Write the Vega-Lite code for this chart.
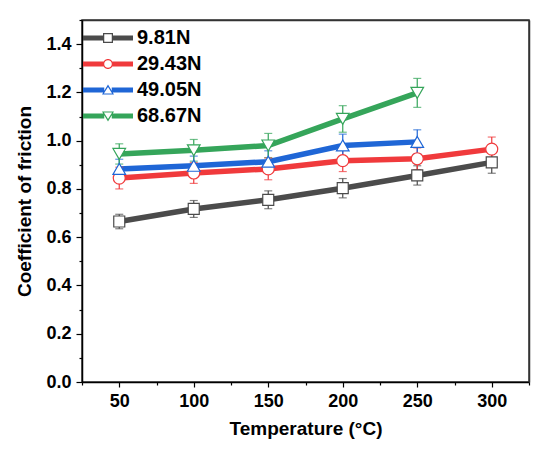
{
  "$schema": "https://vega.github.io/schema/vega-lite/v6.json",
  "width": 447,
  "height": 362,
  "autosize": {"type": "none"},
  "padding": {"left": 82, "top": 20, "right": 21, "bottom": 75},
  "background": "white",
  "config": {
    "view": {"stroke": "#333333", "strokeWidth": 1.5},
    "font": "Liberation Sans",
    "legend": {
      "labelFont": "Liberation Sans",
      "labelFontSize": 20,
      "labelFontWeight": "bold",
      "labelColor": "black",
      "labelOffset": 19,
      "rowPadding": 6,
      "padding": 0,
      "symbolSize": 100,
      "symbolStrokeWidth": 0,
      "symbolOpacity": 1
    }
  },
  "data": {
    "values": [
      {"temp": 50, "load": "9.81N", "cof": 0.665, "err": 0.03},
      {"temp": 100, "load": "9.81N", "cof": 0.717, "err": 0.035},
      {"temp": 150, "load": "9.81N", "cof": 0.755, "err": 0.037},
      {"temp": 200, "load": "9.81N", "cof": 0.803, "err": 0.04},
      {"temp": 250, "load": "9.81N", "cof": 0.856, "err": 0.04},
      {"temp": 300, "load": "9.81N", "cof": 0.91, "err": 0.045},
      {"temp": 50, "load": "29.43N", "cof": 0.845, "err": 0.045},
      {"temp": 100, "load": "29.43N", "cof": 0.866, "err": 0.043},
      {"temp": 150, "load": "29.43N", "cof": 0.883, "err": 0.045},
      {"temp": 200, "load": "29.43N", "cof": 0.917, "err": 0.045},
      {"temp": 250, "load": "29.43N", "cof": 0.925, "err": 0.045},
      {"temp": 300, "load": "29.43N", "cof": 0.965, "err": 0.05},
      {"temp": 50, "load": "49.05N", "cof": 0.883, "err": 0.04},
      {"temp": 100, "load": "49.05N", "cof": 0.896, "err": 0.04},
      {"temp": 150, "load": "49.05N", "cof": 0.913, "err": 0.045},
      {"temp": 200, "load": "49.05N", "cof": 0.98, "err": 0.047},
      {"temp": 250, "load": "49.05N", "cof": 0.995, "err": 0.05},
      {"temp": 50, "load": "68.67N", "cof": 0.945, "err": 0.042},
      {"temp": 100, "load": "68.67N", "cof": 0.96, "err": 0.045},
      {"temp": 150, "load": "68.67N", "cof": 0.98, "err": 0.05},
      {"temp": 200, "load": "68.67N", "cof": 1.09, "err": 0.055},
      {"temp": 250, "load": "68.67N", "cof": 1.198, "err": 0.06}
    ]
  },
  "resolve": {"axis": {"x": "independent", "y": "independent"}},
  "layer": [
    {
      "encoding": {
        "x": {
          "field": "temp",
          "type": "quantitative",
          "scale": {"domain": [25, 325]},
          "axis": {
            "title": "Temperature (°C)",
            "values": [25, 50, 75, 100, 125, 150, 175, 200, 225, 250, 275, 300, 325],
            "labelExpr": "datum.value % 50 == 0 ? datum.label : ''",
            "tickSize": {"condition": {"test": "datum.value % 50 == 0", "value": 5}, "value": 3},
            "tickWidth": 1.2,
            "tickColor": "black",
            "grid": false,
            "domain": true,
            "domainColor": "black",
            "domainWidth": 1.5,
            "labelOverlap": false,
            "labelFlush": false,
            "labelFontSize": 18,
            "labelFontWeight": "bold",
            "labelColor": "black",
            "labelPadding": 5,
            "titleFontSize": 19,
            "titleFontWeight": "bold",
            "titleColor": "black",
            "titlePadding": 9
          }
        },
        "y": {
          "field": "cof",
          "type": "quantitative",
          "scale": {"domain": [0, 1.5]},
          "axis": {
            "title": "Coefficient of friction",
            "values": [0, 0.1, 0.2, 0.3, 0.4, 0.5, 0.6, 0.7, 0.8, 0.9, 1.0, 1.1, 1.2, 1.3, 1.4, 1.5],
            "format": ".1f",
            "labelExpr": "round(datum.value * 10) % 2 == 0 && datum.value < 1.45 ? datum.label : ''",
            "tickSize": {"condition": {"test": "round(datum.value * 10) % 2 == 0", "value": 6}, "value": 3},
            "tickWidth": 1.2,
            "tickColor": "black",
            "grid": false,
            "domain": true,
            "domainColor": "black",
            "domainWidth": 1.5,
            "labelOverlap": false,
            "labelFlush": false,
            "labelFontSize": 18,
            "labelFontWeight": "bold",
            "labelColor": "black",
            "labelPadding": 5,
            "titleFontSize": 19,
            "titleFontWeight": "bold",
            "titleColor": "black",
            "titlePadding": 11
          }
        }
      },
      "layer": [
        {
          "mark": {"type": "line", "strokeWidth": 5.5},
          "encoding": {
            "color": {
              "field": "load",
              "type": "nominal",
              "scale": {"domain": ["9.81N", "29.43N", "49.05N", "68.67N"], "range": ["#4b4b4b", "#f03a3c", "#1f66d6", "#35a55a"]}
            }
          }
        },
        {
          "mark": {"type": "errorbar", "ticks": true, "size": 8, "thickness": 1.2},
          "encoding": {
            "yError": {"field": "err"},
            "color": {"field": "load", "type": "nominal"}
          }
        },
        {
          "transform": [{"filter": "datum.load == '9.81N'"}],
          "mark": {"type": "point", "shape": "square", "filled": true, "fill": "white", "stroke": "#4b4b4b", "strokeWidth": 1.2, "size": 121, "opacity": 1}
        },
        {
          "transform": [{"filter": "datum.load == '29.43N'"}],
          "mark": {"type": "point", "shape": "circle", "filled": true, "fill": "white", "stroke": "#f03a3c", "strokeWidth": 1.2, "size": 144, "opacity": 1}
        },
        {
          "transform": [{"filter": "datum.load == '49.05N'"}],
          "mark": {"type": "point", "shape": "triangle-up", "filled": true, "fill": "white", "stroke": "#1f66d6", "strokeWidth": 1.2, "size": 160, "opacity": 1}
        },
        {
          "transform": [{"filter": "datum.load == '68.67N'"}],
          "mark": {"type": "point", "shape": "triangle-down", "filled": true, "fill": "white", "stroke": "#35a55a", "strokeWidth": 1.2, "size": 160, "opacity": 1}
        },
        {
          "transform": [{"filter": "datum.temp < 0"}],
          "mark": {"type": "point", "filled": true, "size": 100},
          "encoding": {
            "color": {
              "field": "load",
              "type": "nominal",
              "legend": {"title": null, "orient": "none", "legendX": 16, "legendY": 8}
            },
            "shape": {
              "field": "load",
              "type": "nominal",
              "scale": {
                "domain": ["9.81N", "29.43N", "49.05N", "68.67N"],
                "range": [
                  "M-5,-0.5H-1V0.5H-5Z M1,-0.5H5V0.5H1Z M-1,-1H1V1H-1Z M-0.75,-0.75V0.75H0.75V-0.75Z",
                  "M-5,-0.5H-0.9V0.5H-5Z M0.9,-0.5H5V0.5H0.9Z M-1,0A1,1,0,1,1,1,0A1,1,0,1,1,-1,0Z M-0.76,0A0.76,0.76,0,1,0,0.76,0A0.76,0.76,0,1,0,-0.76,0Z",
                  "M-5,-0.5H-0.75V0.5H-5Z M0.75,-0.5H5V0.5H0.75Z M0,-1.1L1.2,0.9L-1.2,0.9Z M0,-0.6L-0.82,0.68L0.82,0.68Z",
                  "M-5,-0.5H-0.75V0.5H-5Z M0.75,-0.5H5V0.5H0.75Z M0,1.1L-1.2,-0.9L1.2,-0.9Z M0,0.6L0.82,-0.68L-0.82,-0.68Z"
                ]
              },
              "legend": {"title": null, "orient": "none", "legendX": 16, "legendY": 8}
            }
          }
        }
      ]
    },
    {
      "transform": [{"filter": "datum.temp < 0"}],
      "mark": {"type": "point"},
      "encoding": {
        "x": {
          "field": "temp",
          "type": "quantitative",
          "scale": {"domain": [25, 325]},
          "axis": {"orient": "top", "title": null, "labels": false, "ticks": false, "grid": false, "domain": true, "domainColor": "#333333", "domainWidth": 1.5}
        },
        "y": {
          "field": "cof",
          "type": "quantitative",
          "scale": {"domain": [0, 1.5]},
          "axis": {"orient": "right", "title": null, "labels": false, "ticks": false, "grid": false, "domain": true, "domainColor": "#333333", "domainWidth": 1.5}
        }
      }
    }
  ]
}
